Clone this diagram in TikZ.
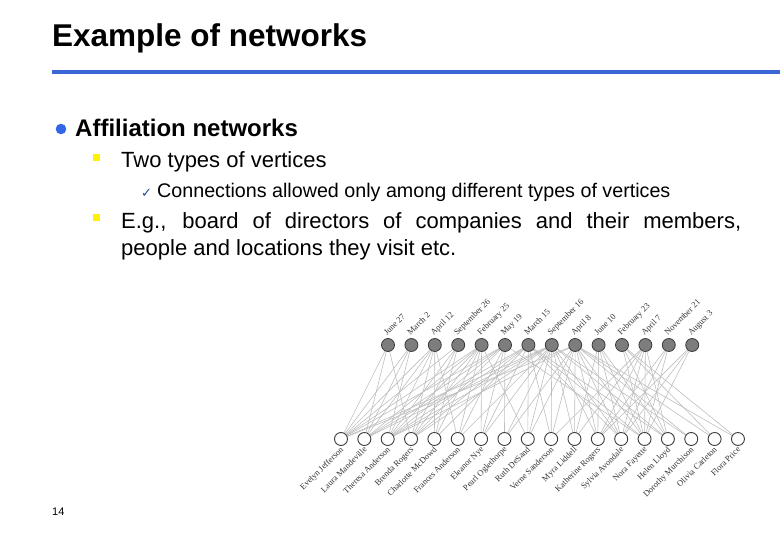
\documentclass[tikz,border=0pt]{standalone}
\usepackage{fontspec}
\setmainfont{Liberation Sans}
\newfontfamily\graphfont{Liberation Serif}
\newfontfamily\symfont{DejaVu Sans}
\usetikzlibrary{backgrounds}
\definecolor{titleblue}{RGB}{59,102,214}
\definecolor{bulletblue}{RGB}{51,102,230}
\definecolor{edgegray}{RGB}{190,190,190}
\definecolor{eventfill}{RGB}{125,125,125}
\definecolor{nodeline}{RGB}{60,60,60}
\tikzset{
  txt/.style={inner sep=0pt, anchor=base west},
  event/.style={circle, fill=eventfill, draw=nodeline, line width=0.8pt, minimum size=13pt, inner sep=0pt},
  woman/.style={circle, fill=white, draw=nodeline, line width=0.9pt, minimum size=13pt, inner sep=0pt},
  toplab/.style={inner sep=0pt, rotate=45, anchor=base west, font=\graphfont\fontsize{8.5}{9}\selectfont, text=black!80},
  botlab/.style={inner sep=0pt, rotate=45, anchor=base east, font=\graphfont\fontsize{8.5}{9}\selectfont, text=black!80},
  edge/.style={draw=edgegray, line width=0.6pt}
}
\begin{document}
\begin{tikzpicture}[x=1pt,y=-1pt]
\useasboundingbox (0,0) rectangle (780,540);
% title
\node[txt] (title) at (52,47) {\fontsize{31.5}{34}\selectfont\bfseries Example of networks};
\draw[titleblue, line width=4.5pt] (52,72) coordinate (rulestart) -- (780,72) coordinate (ruleend);
% bullets
\fill[bulletblue] (61,129) circle (5.3pt);
\node[txt] (aff) at (75,137) {\fontsize{24}{26}\selectfont\bfseries Affiliation networks};
\fill[yellow] (92.5,154) rectangle (99.5,161);
\node[txt] (two) at (121,168) {\fontsize{22}{24}\selectfont Two types of vertices};
\node[txt] (chk) at (141,198) {\symfont\fontsize{13}{14}\selectfont\color{titleblue!70!black}✓};
\node[txt] (conn) at (157,198) {\fontsize{19.7}{22}\selectfont Connections allowed only among different types of vertices};
\fill[yellow] (92.5,214) rectangle (99.5,221);
\node[txt] (eg1) at (121,229) {\fontsize{22}{24}\selectfont\makebox[620pt][s]{E.g., board of directors of companies and their members,}};
\node[txt] (eg2) at (121,256) {\fontsize{22}{24}\selectfont people and locations they visit etc.};
\node[txt] (pg) at (52,515) {\fontsize{11}{12}\selectfont 14};
% event nodes
\foreach [count=\i] \lab in {June 27,March 2,April 12,September 26,February 25,May 19,March 15,September 16,April 8,June 10,February 23,April 7,November 21,August 3}{
  \node[event] (t\i) at ({388+23.4*(\i-1)},345) {};
  \node[toplab] (tl\i) at ({388+23.4*(\i-1)-1},336) {\lab};
}
% women nodes
\foreach [count=\i] \lab in {Evelyn Jefferson,Laura Mandeville,Theresa Anderson,Brenda Rogers,Charlotte McDowd,Frances Anderson,Eleanor Nye,Pearl Oglethorpe,Ruth DeSand,Verne Sanderson,Myra Liddell,Katherine Rogers,Sylvia Avondale,Nora Fayette,Helen Lloyd,Dorothy Murchison,Olivia Carleton,Flora Price}{
  \node[woman] (w\i) at ({341+23.35*(\i-1)},439) {};
  \node[botlab] (wl\i) at ({341+23.35*(\i-1)+3},450) {\lab};
}
% edges
\begin{scope}[on background layer]
\foreach \w/\es in {1/{1,2,3,4,5,6,8,9},2/{1,2,3,5,6,7,8},3/{2,3,4,5,6,7,8,9},4/{1,3,4,5,6,7,8},5/{3,4,5,7},6/{3,5,6,8},7/{5,6,7,8},8/{6,8,9},9/{5,7,8,9},10/{7,8,9,12},11/{8,9,10,12},12/{8,9,10,12,13,14},13/{7,8,9,10,12,13,14},14/{6,7,9,10,11,12,13,14},15/{7,8,10,11,12},16/{8,9},17/{9,11},18/{9,11}}{
  \foreach \e in \es { \draw[edge] (w\w) -- (t\e); }
}
\end{scope}
\end{tikzpicture}
\end{document}
